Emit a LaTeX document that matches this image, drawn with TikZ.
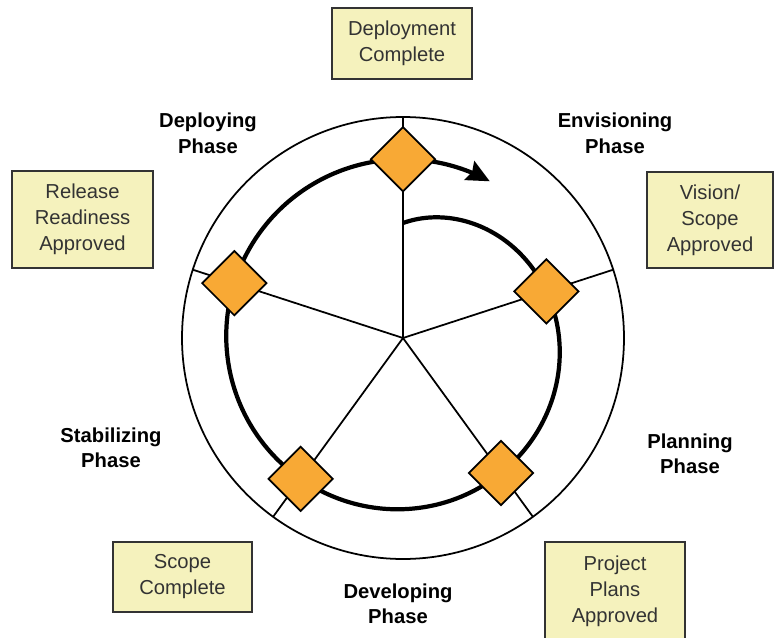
\documentclass[tikz,border=0pt]{standalone}
\usepackage{fontspec}
\setmainfont{Liberation Sans}
\usetikzlibrary{shapes.geometric,arrows.meta}
\definecolor{boxyellow}{RGB}{245,242,189}
\definecolor{gateorange}{RGB}{248,169,53}

\begin{document}
\begin{tikzpicture}[x=0.02cm,y=0.02cm,
    milestone box/.style={draw=black!80,line width=1.2pt,fill=boxyellow,align=center,
      font=\fontsize{11.5}{14.8}\selectfont,text=black!80,inner sep=0pt},
    phase label/.style={align=center,font=\fontsize{11.5}{14.5}\selectfont\bfseries},
    gate node/.style={diamond,draw,line width=1pt,fill=gateorange,minimum size=1.3cm,inner sep=0pt},
    spoke/.style={line width=1pt}]

\useasboundingbox (0,0) rectangle (775,637);

% wheel and spokes
\coordinate (hub) at (403,299);
\draw[line width=1pt] (hub) circle (221);
\foreach \a/\n in {90/top,18/east,-54/se,-126/sw,162/west} {
  \coordinate (rim-\n) at ({403+221*cos(\a)},{299+221*sin(\a)});
  \draw[spoke] (hub) -- (rim-\n);
}

% spiral with arrow
\draw[line width=2.4pt,-{Stealth[length=0.46cm,width=0.42cm,inset=0.06cm]}]
  plot[domain=0:389,samples=130,smooth,variable=\t]
  ({403+(180-65*exp(-\t/90))*cos(90-\t)},{299+(180-65*exp(-\t/90))*sin(90-\t)});

% milestones
\foreach \t/\n in {72/east,144/se,216/sw,288/west,360/top}
  \node[gate node] (gate-\n) at ({403+(180-65*exp(-\t/90))*cos(90-\t)},{299+(180-65*exp(-\t/90))*sin(90-\t)}) {};

% boxes
\node[milestone box,minimum width=2.8cm,minimum height=1.42cm] (done) at (402,593.5) {Deployment\\Complete};
\node[milestone box,minimum width=2.52cm,minimum height=1.92cm] (vision) at (710,417) {Vision/\\Scope\\Approved};
\node[milestone box,minimum width=2.8cm,minimum height=1.96cm] (plans) at (615,46) {Project\\Plans\\Approved};
\node[milestone box,minimum width=2.78cm,minimum height=1.4cm] (scope) at (182.5,60) {Scope\\Complete};
\node[milestone box,minimum width=2.82cm,minimum height=1.94cm] (release) at (82.5,417.5) {Release\\Readiness\\Approved};

% phases
\node[phase label] (envisioning) at (615,503.5) {Envisioning\\Phase};
\node[phase label] (planning) at (690,183) {Planning\\Phase};
\node[phase label] (developing) at (398,33) {Developing\\Phase};
\node[phase label] (stabilizing) at (111,189) {Stabilizing\\Phase};
\node[phase label] (deploying) at (208,503.5) {Deploying\\Phase};
\end{tikzpicture}
\end{document}
